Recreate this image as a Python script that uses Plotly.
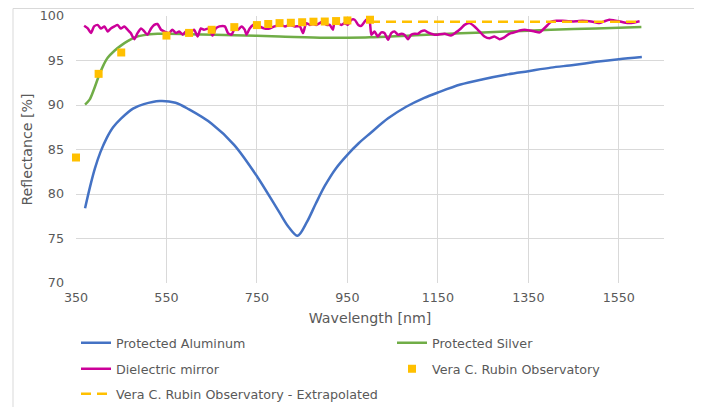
import plotly.graph_objects as go

# ---------------- data ----------------
al_wl = [370, 381, 392, 404, 417, 432, 450, 476, 500, 535, 570, 600, 650, 700, 750, 800, 820, 840, 860, 880, 900,
         925, 950, 975, 1000, 1040, 1080, 1120, 1150, 1200, 1250, 1300, 1350, 1400, 1450, 1500, 1550, 1601]
al_r = [78.4, 80.8, 82.9, 84.7, 86.2, 87.5, 88.5, 89.6, 90.1, 90.45, 90.25, 89.5, 87.9, 85.5, 82.0, 77.9, 76.3, 75.3,
        76.8, 78.9, 80.9, 82.9, 84.4, 85.7, 86.8, 88.5, 89.8, 90.8, 91.4, 92.3, 92.9, 93.4, 93.8, 94.2, 94.5, 94.85,
        95.15, 95.4]

ag_wl = [370, 380, 390, 400, 410, 420, 435, 450, 465, 480, 500, 530, 550, 600, 700, 800, 900, 950,
         1000, 1100, 1200, 1300, 1400, 1500, 1600]
ag_r = [90.05, 90.6, 91.8, 93.2, 94.4, 95.3, 96.1, 96.7, 97.2, 97.6, 97.85, 98.0, 98.0, 97.95, 97.85, 97.7, 97.55, 97.55,
        97.6, 97.85, 98.05, 98.25, 98.45, 98.6, 98.76]

di_wl = [368, 376, 383, 390, 398, 405, 413, 420, 427, 435, 442, 449, 457, 464, 471, 479, 486, 494,
         501, 508, 516, 523, 530, 538, 545, 556, 563, 571, 578, 586, 593, 600, 611, 619, 626, 633,
         644, 652, 659, 667, 679, 686, 694, 701, 708, 716, 723, 727, 734, 742, 749, 756, 767, 778,
         789, 801, 812, 823, 834, 845, 852, 859, 867, 874, 881, 889, 896, 904, 911, 918, 922, 929,
         937, 944, 951, 959, 966, 974, 981, 992, 999, 1003, 1010, 1017, 1025, 1032, 1040, 1047, 1054,
         1062, 1069, 1076, 1084, 1091, 1098, 1106, 1113, 1121, 1128, 1135, 1143, 1150, 1165, 1179,
         1190, 1201, 1209, 1220, 1231, 1242, 1253, 1264, 1275, 1286, 1297, 1305, 1312, 1319, 1331,
         1342, 1353, 1364, 1375, 1382, 1393, 1400, 1412, 1426, 1441, 1456, 1470, 1485, 1500, 1507,
         1518, 1529, 1540, 1551, 1562, 1573, 1585, 1596]
di_r = [98.9, 98.6, 98.08, 98.83, 99.0, 98.6, 98.83, 98.27, 98.6, 98.83, 99.0, 98.6, 98.83, 98.46, 98.08, 97.4, 98.08, 98.6,
        98.27, 97.9, 98.6, 99.0, 99.1, 98.46, 98.27, 98.08, 98.46, 98.08, 98.27, 97.9, 98.27, 98.08, 98.46, 97.7, 98.6, 98.46,
        98.6, 97.8, 98.6, 98.83, 98.83, 98.08, 97.9, 98.6, 98.46, 98.83, 98.46, 97.9, 98.6, 99.0, 99.1, 98.83, 98.6, 98.6,
        98.83, 99.0, 98.83, 99.0, 98.83, 98.83, 98.08, 99.2, 99.0, 99.1, 99.0, 99.2, 99.4, 99.0, 99.0, 98.46, 99.4, 99.2,
        99.0, 99.2, 99.0, 99.58, 99.58, 99.0, 98.9, 99.58, 99.4, 97.9, 98.27, 97.7, 98.16, 98.08, 97.33, 98.08, 98.27,
        97.9, 98.0, 97.9, 97.4, 97.9, 98.0, 98.0, 98.27, 98.38, 98.16, 98.0, 97.9, 97.9, 98.0, 97.8,
        98.16, 98.6, 99.0, 99.2, 98.83, 98.27, 97.7, 97.5, 97.7, 97.4, 97.6, 97.9, 98.08, 98.16, 98.38,
        98.46, 98.38, 98.27, 98.16, 98.46, 99.0, 99.35, 99.46, 99.46, 99.4, 99.4, 99.46, 99.4, 99.28, 99.2,
        99.4, 99.58, 99.5, 99.4, 99.28, 99.2, 99.28, 99.4]

vr_wl = [350, 400, 450, 550, 600, 650, 700, 750, 775, 800, 825, 850, 875, 900, 925, 950, 1000]
vr_r = [84.1, 93.5, 95.9, 97.8, 98.1, 98.45, 98.75, 98.98, 99.1, 99.2, 99.24, 99.3, 99.36, 99.38, 99.43, 99.5, 99.58]

ex_wl = [1000, 1600]
ex_r = [99.35, 99.35]

x_ticks = [350, 550, 750, 950, 1150, 1350, 1550]
y_ticks = [70, 75, 80, 85, 90, 95, 100]

# ---------------- figure ----------------
FONT = "DejaVu Sans"
TXT = "#595959"
OFF = 8                       # page body margin of the html page
W, H = 702 - OFF, 407 - OFF
PL, PR, PT, PB = 76, 664, 16, 283   # plot area in page pixels
PW, PH = PR - PL, PB - PT
LW = 2.5

fig = go.Figure()
fig.add_trace(go.Scatter(x=al_wl, y=al_r, mode="lines", name="Protected Aluminum",
                         line=dict(color="#4472C4", width=LW, shape="spline", smoothing=0.9), legend="legend"))
fig.add_trace(go.Scatter(x=ag_wl, y=ag_r, mode="lines", name="Protected Silver",
                         line=dict(color="#70AD47", width=LW, shape="spline", smoothing=0.9), legend="legend2"))
fig.add_trace(go.Scatter(x=di_wl, y=di_r, mode="lines", name="Dielectric mirror",
                         line=dict(color="#CC0099", width=LW, shape="spline", smoothing=0.6), legend="legend3"))
fig.add_trace(go.Scatter(x=vr_wl, y=vr_r, mode="markers", name="Vera C. Rubin Observatory", cliponaxis=False,
                         marker=dict(color="#FFC000", symbol="square", size=8), legend="legend4"))
fig.add_trace(go.Scatter(x=ex_wl, y=ex_r, mode="lines", name="Vera C. Rubin Observatory - Extrapolated",
                         line=dict(color="#FFC000", width=LW, dash="10px,6px"), legend="legend5"))

def leg(px, py):
    return dict(x=(px - PL) / PW, y=(PB - py) / PH, xref="paper", yref="paper",
                xanchor="left", yanchor="middle", bgcolor="rgba(0,0,0,0)",
                font=dict(family=FONT, size=12.7, color=TXT), borderwidth=0)

fig.update_layout(
    width=W, height=H,
    margin=dict(l=PL - OFF, r=W - (PR - OFF), t=PT - OFF, b=H - (PB - OFF), autoexpand=False),
    paper_bgcolor="white", plot_bgcolor="white",
    font=dict(family=FONT, size=12.7, color=TXT),
    showlegend=True,
    legend=leg(76, 343),
    legend2=leg(392, 343),
    legend3=leg(76, 369),
    legend4=leg(392, 369),
    legend5=leg(76, 394),
    xaxis=dict(range=[350, 1650], tickvals=x_ticks, showgrid=True, gridcolor="#D9D9D9", gridwidth=1,
               zeroline=False, showline=False, ticks="", ticklabelstandoff=5,
               tickfont=dict(family=FONT, size=12.7, color=TXT),
               title=dict(text="Wavelength [nm]", font=dict(family=FONT, size=14.2, color=TXT), standoff=9)),
    yaxis=dict(range=[70, 100], tickvals=y_ticks, showgrid=True, gridcolor="#D9D9D9", gridwidth=1,
               zeroline=False, showline=False, ticks="", ticklabelstandoff=11,
               tickfont=dict(family=FONT, size=12.7, color=TXT),
               title=dict(text="Reflectance [%]", font=dict(family=FONT, size=14.2, color=TXT), standoff=3)),
    shapes=[dict(type="rect", xref="paper", yref="paper",
                 x0=(13 - PL) / PW, x1=(698 - PL) / PW, y0=(PB - 420) / PH, y1=(PB - 8.5) / PH,
                 line=dict(color="#D9D9D9", width=1), fillcolor="rgba(0,0,0,0)", layer="below")],
)

fig.write_html("out.html")
